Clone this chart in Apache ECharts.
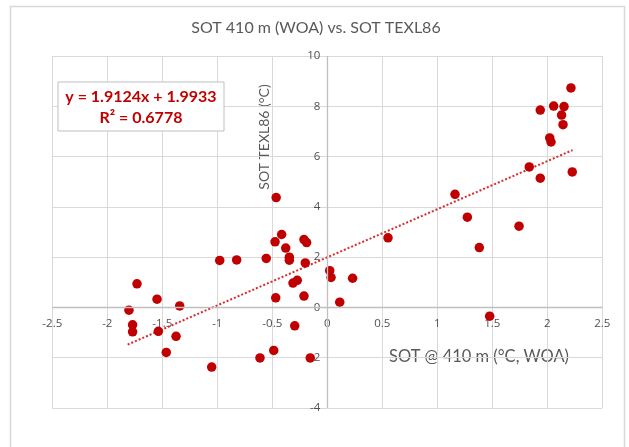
<!DOCTYPE html>
<html>
<head>
<meta charset="utf-8">
<script src="https://cdn.jsdelivr.net/npm/echarts@6/dist/echarts.min.js"></script>
<style>html,body{margin:0;padding:0;background:#fff}#c{width:629px;height:447px}</style>
</head>
<body>
<div id="c"></div>
<script>
const xValues = [-0.415,-0.475,-0.212,-0.188,-0.378,-0.345,-0.345,-0.555,-0.824,-0.978,-0.2,0.022,0.034,0.23,-0.273,-0.312,-0.212,-0.469,0.113,-1.73,-1.548,-1.342,-1.803,-1.77,-1.77,-1.536,-1.375,-1.464,-1.051,-0.612,-0.487,-0.296,-0.155,-0.465,0.552,2.215,2.058,2.152,1.936,2.13,2.143,2.022,2.034,1.836,1.936,2.227,1.161,1.273,1.743,1.382,1.476];
const yValues = [2.90,2.61,2.70,2.58,2.36,2.0,1.88,1.95,1.89,1.87,1.77,1.46,1.19,1.16,1.08,0.97,0.45,0.38,0.21,0.94,0.33,0.06,-0.11,-0.69,-0.97,-0.95,-1.15,-1.79,-2.37,-2.01,-1.71,-0.73,-2.01,4.37,2.77,8.73,8.01,7.99,7.85,7.65,7.27,6.74,6.58,5.59,5.14,5.39,4.50,3.59,3.23,2.38,-0.35];
const slope = 1.9124, intercept = 1.9933, r2 = 0.6778;
const trendX = [-1.815, 2.23];
const xTicks = ['-2.5','-2','-1.5','-1','-0.5','0','0.5','1','1.5','2','2.5'];
const yTicks = ['-4','-2','0','2','4','6','8','10'];
const titleText = 'SOT 410 m (WOA) vs. SOT TEXL86';
const xTitle = 'SOT @ 410 m (°C, WOA)';
const yTitle = 'SOT TEXL86 (°C)';

const pts = xValues.map((x,i)=>[x,yValues[i]]);
const trend = trendX.map(x=>[x, slope*x+intercept]);
const font = 'Lato, "Open Sans", sans-serif';
const tickStyle = {color:'#505050',fontSize:11.5,fontFamily:'"Open Sans", sans-serif'};
const chart = echarts.init(document.getElementById('c'));
chart.setOption({
  animation:false,
  grid:{left:52.3,right:26.7,top:56,bottom:39},
  xAxis:{type:'value',min:-2.5,max:2.5,interval:0.5,
    axisLine:{show:false},axisTick:{show:false},axisLabel:{show:false},
    splitLine:{lineStyle:{color:'#d9d9d9'}}},
  yAxis:{type:'value',min:-4,max:10,interval:2,
    axisLine:{show:false},axisTick:{show:false},axisLabel:{show:false},
    splitLine:{lineStyle:{color:'#d9d9d9'}}},
  series:[
    {type:'scatter',data:[],silent:true,
      markLine:{silent:true,symbol:'none',label:{show:false},lineStyle:{color:'#bfbfbf',width:1.3,type:'solid'},
        data:[{xAxis:0},{yAxis:0}]}},
    {type:'scatter',data:xTicks.map(t=>[parseFloat(t),0,t]),symbolSize:0,silent:true,z:2,itemStyle:{opacity:1},
      label:{show:true,position:'bottom',distance:10,formatter:p=>p.data[2],...tickStyle}},
    {type:'scatter',data:yTicks.map(t=>[0,parseFloat(t),t]),symbolSize:0,silent:true,z:2,itemStyle:{opacity:1},
      label:{show:true,position:'left',distance:7,formatter:p=>p.data[2],...tickStyle}},
    {type:'line',data:trend,symbol:'none',lineStyle:{color:'#d92b2b',width:2,type:[2,2]},z:3},
    {type:'scatter',data:pts,symbolSize:9.5,itemStyle:{color:'#C00000',opacity:1},z:4}
  ],
  graphic:[
    {type:'rect',shape:{x:10.5,y:6.5,width:614,height:460},style:{fill:'none',stroke:'#d9d9d9',lineWidth:1.5},z:-10},
    {type:'text',x:316,y:28,style:{text:titleText,fill:'#595959',font:'16px '+font,textAlign:'center',textVerticalAlign:'middle'}},
    {type:'text',x:479,y:357,style:{text:xTitle,fill:'#595959',font:'16.5px '+font,textAlign:'center',textVerticalAlign:'middle'}},
    {type:'text',x:264,y:137,rotation:Math.PI/2,style:{text:yTitle,fill:'#595959',font:'14px '+font,textAlign:'center',textVerticalAlign:'middle'}},
    {type:'rect',shape:{x:58,y:82,width:166,height:49},style:{fill:'#fff',stroke:'#bfbfbf',lineWidth:1},z:50},
    {type:'text',x:141,y:97,z:51,style:{text:'y = '+slope+'x + '+intercept,fill:'#C00000',font:'bold 16px '+font,textAlign:'center',textVerticalAlign:'middle'}},
    {type:'text',x:141,y:118,z:51,style:{text:'R² = '+r2,fill:'#C00000',font:'bold 16px '+font,textAlign:'center',textVerticalAlign:'middle'}}
  ]
});
</script>
</body>
</html>
